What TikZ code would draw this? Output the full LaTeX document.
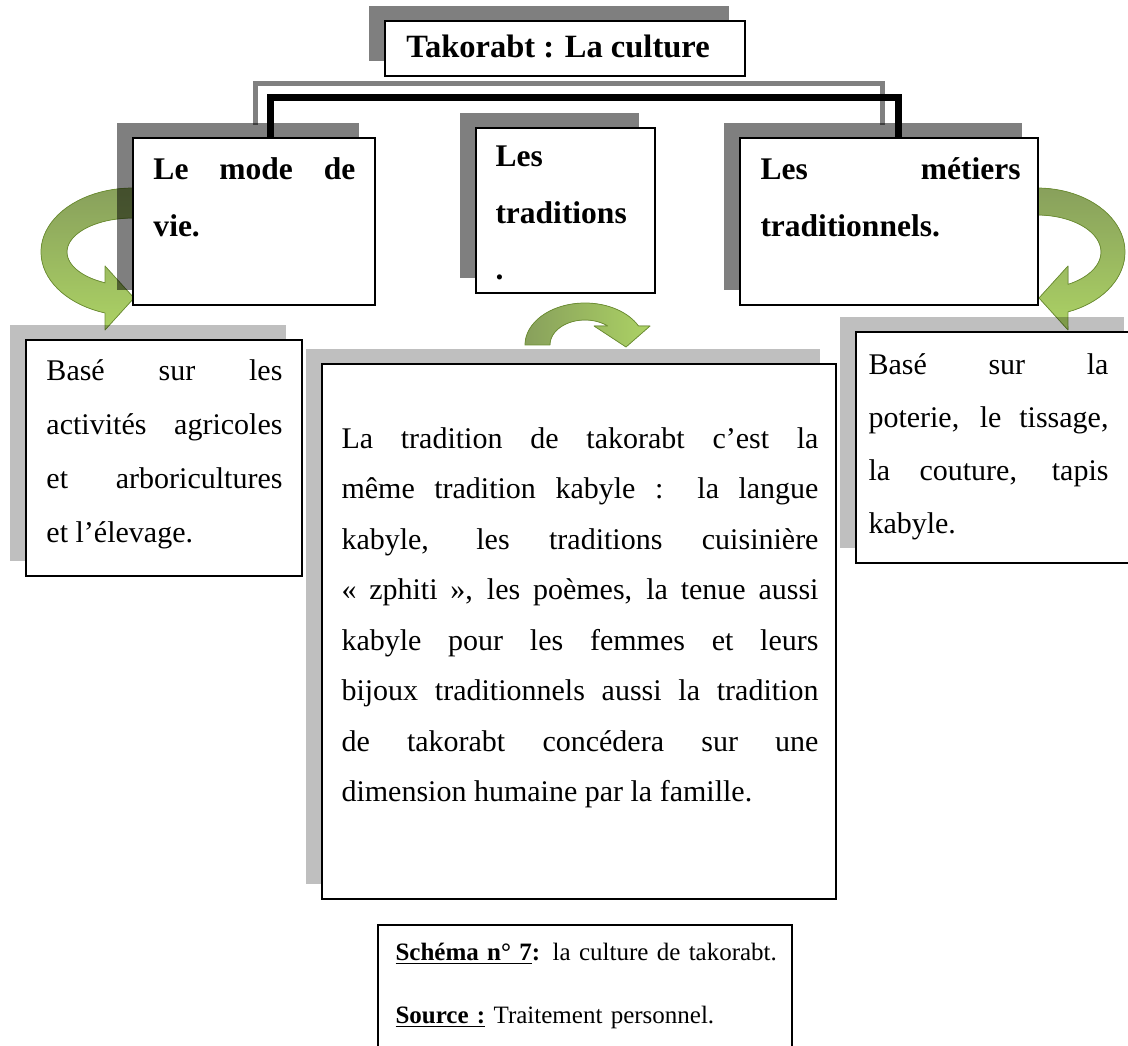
\documentclass[tikz,border=0pt]{standalone}
\usepackage{fontspec}
\setmainfont{Liberation Serif}
\usetikzlibrary{shadows,fit}
\definecolor{arrowolive}{RGB}{136,160,92}
\definecolor{arrowgreen}{RGB}{172,210,100}
\definecolor{arrowedge}{RGB}{110,144,52}

\begin{document}
\begin{tikzpicture}[x=0.4pt,y=-0.4pt,
  card/.style={draw=black,line width=0.8pt,fill=white,inner sep=0pt},
  darkcard/.style={card,drop shadow={shadow xshift=-6.4pt,shadow yshift=6pt,fill=black,opacity=.5}},
  lightcard/.style={card,drop shadow={shadow xshift=-6.4pt,shadow yshift=6pt,fill=black,opacity=.25}},
  headtext/.style={font=\fontsize{12.6}{22.6}\selectfont\bfseries,align=justify,inner sep=0pt,anchor=base west},
  bodytext/.style={align=justify,inner sep=0pt,anchor=base west},
  bendarrow/.style={draw=arrowedge,line width=0.3pt,line join=round}]
  \useasboundingbox (0,0) rectangle (1128,1046);
  \clip (0,0) rectangle (1128,1046);

  % green turning arrows (under the boxes and their shadows)
  \filldraw[bendarrow,top color=arrowolive,bottom color=arrowgreen]
    plot[domain=270:107.7,samples=40] ({133+92*cos(\x)},{252+64*sin(\x)})
    -- (105,330) -- (134,298) -- (105,266) -- (105,283)
    -- plot[domain=115.1:270,samples=40] ({133+66*cos(\x)},{252+34*sin(\x)}) -- cycle;
  \filldraw[bendarrow,left color=arrowolive,right color=arrowgreen]
    plot[domain=180:333.1,samples=40] ({585+60*cos(\x)},{345+42*sin(\x)})
    -- (650,326) -- (626,347) -- (594,326)
    -- plot[domain=310.5:180,samples=40] ({585+35*cos(\x)},{345+25*sin(\x)}) -- cycle;
  \filldraw[bendarrow,top color=arrowolive,bottom color=arrowgreen]
    plot[domain=270:429.4,samples=40] ({1037+88*cos(\x)},{252+64*sin(\x)})
    -- (1068,330) -- (1039,298) -- (1068,266) -- (1068,284)
    -- plot[domain=421:270,samples=40] ({1037+64*cos(\x)},{252+37*sin(\x)}) -- cycle;

  % grey bracket behind the black one
  \coordinate (greyL) at (255,84);
  \coordinate (greyR) at (882,84);
  \draw[black!50,line width=2pt] (255,125) -- (greyL) -- (greyR) -- (882,125);

  % title
  \node[darkcard,fit={(385,21) (745,76)}] (titlebox) {};
  \node[font=\fontsize{13}{16}\selectfont\bfseries,inner sep=0pt,anchor=base] (titletext) at (558,58) {Takorabt : La culture};

  % the three headings
  \node[darkcard,fit={(133,138) (375,305)}] (modebox) {};
  \node[headtext,text width=80.8pt] (modetext) at (153,180) {Le mode de\linebreak vie.};
  \node[darkcard,fit={(476,128) (655,293)}] (tradbox) {};
  \node[headtext,text width=62pt] (tradtext) at (495,167) {Les\\traditions\\.};
  \node[darkcard,fit={(740,138) (1038,305)}] (metierbox) {};
  \node[headtext,text width=104pt] (metiertext) at (760,180) {Les métiers\linebreak traditionnels.};

  % black bracket joining the side headings
  \coordinate (blackL) at (270,98);
  \coordinate (blackR) at (898,98);
  \draw[line width=2.8pt] (blackL |- modebox.north) -- (blackL) -- (blackR) -- (blackR |- metierbox.north);

  % details under each heading
  \node[lightcard,fit={(26,340) (302,576)}] (modedesc) {};
  \node[bodytext,font=\fontsize{12}{21.6}\selectfont,text width=94.4pt] (modedesctext) at (46,380)
    {Basé sur les\linebreak activités agricoles\linebreak et arboricultures\linebreak et l’élevage.};

  \node[lightcard,fit={(322,364) (836,899)}] (traddesc) {};
  \node[bodytext,font=\fontsize{12}{20.2}\selectfont,text width=190.8pt] (traddesctext) at (341,448)
    {La tradition de takorabt c’est la\linebreak
     même tradition kabyle : la langue\linebreak
     kabyle, les traditions cuisinière\linebreak
     «~zphiti~», les poèmes, la tenue aussi\linebreak
     kabyle pour les femmes et leurs\linebreak
     bijoux traditionnels aussi la tradition\linebreak
     de takorabt concédera sur une\linebreak
     dimension humaine par la famille.};

  \node[lightcard,fit={(856,332) (1140,563)}] (metierdesc) {};
  \node[bodytext,font=\fontsize{12}{21.1}\selectfont,text width=96pt] (metierdesctext) at (868,375)
    {Basé sur la\linebreak poterie, le tissage,\linebreak la couture, tapis\linebreak kabyle.};

  % caption
  \node[card,fit={(378,925) (792,1056)}] (capbox) {};
  \node[font=\fontsize{10}{25.2}\selectfont,align=left,text width=160pt,inner sep=0pt,anchor=base west] (captext) at (395,960)
    {\textbf{\underline{Schéma n° 7}:} la culture de takorabt.\\
     \textbf{\underline{Source :}} Traitement personnel.};
\end{tikzpicture}
\end{document}
